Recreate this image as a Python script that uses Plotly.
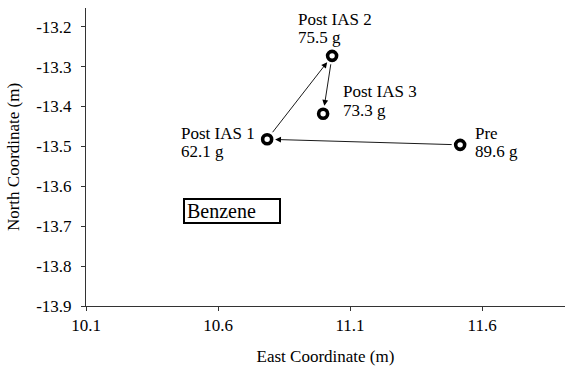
import plotly.graph_objects as go

# data
labels = ["Pre", "Post IAS 1", "Post IAS 2", "Post IAS 3"]
masses = ["89.6 g", "62.1 g", "75.5 g", "73.3 g"]
east = [11.517, 10.786, 11.032, 10.998]
north = [-13.496, -13.482, -13.273, -13.418]
x_ticks = [10.1, 10.6, 11.1, 11.6]
x_tick_text = ["10.1", "10.6", "11.1", "11.6"]
y_ticks = [-13.2, -13.3, -13.4, -13.5, -13.6, -13.7, -13.8, -13.9]
y_tick_text = ["-13.2", "-13.3", "-13.4", "-13.5", "-13.6", "-13.7", "-13.8", "-13.9"]
order = [0, 1, 2, 3]  # sequence of movement

FONT = "'Liberation Serif', 'Times New Roman', 'DejaVu Serif', serif"

fig = go.Figure()
fig.add_trace(go.Scatter(
    x=east, y=north, mode="markers",
    marker=dict(symbol="circle-open", size=9, color="black", line=dict(width=3.6, color="black")),
    showlegend=False, hoverinfo="skip",
))

annotations = []
for a, b in zip(order[:-1], order[1:]):
    annotations.append(dict(
        x=east[b], y=north[b], ax=east[a], ay=north[a],
        xref="x", yref="y", axref="x", ayref="y",
        text="", showarrow=True, arrowhead=2, arrowsize=1.3, arrowwidth=0.9,
        arrowcolor="black", standoff=8, startstandoff=7,
    ))

# label offsets (pixels): (xshift, line1 yshift, line2 yshift)
offsets = {
    0: (14, 11, -7),
    1: (-87, 6, -12),
    2: (-35, 36, 18),
    3: (19, 22, 3),
}
for i in range(len(labels)):
    xs, y1, y2 = offsets[i]
    for txt, ys in ((labels[i], y1), (masses[i], y2)):
        annotations.append(dict(
            x=east[i], y=north[i], xref="x", yref="y",
            text=txt, showarrow=False, xanchor="left", yanchor="middle",
            xshift=xs, yshift=ys, borderpad=0,
            font=dict(family=FONT, size=17, color="black"),
        ))

annotations.append(dict(
    x=0.3048, y=0.3188, xref="paper", yref="paper",
    text="Benzene", showarrow=False, xanchor="center", yanchor="middle",
    align="left", width=90, height=18, borderpad=2, borderwidth=2,
    bordercolor="black", bgcolor="white",
    font=dict(family=FONT, size=20, color="black"),
))

fig.update_layout(
    width=566, height=367,
    margin=dict(l=86, r=1, t=8, b=61),
    paper_bgcolor="white", plot_bgcolor="white",
    font=dict(family=FONT, size=17, color="black"),
    annotations=annotations,
    showlegend=False,
)
fig.update_xaxes(
    range=[10.1, 11.914], tickvals=x_ticks, ticktext=x_tick_text,
    showgrid=False, zeroline=False, showline=True, linecolor="#333", linewidth=1,
    ticks="outside", ticklen=4, tickcolor="#333",
    tickfont=dict(family=FONT, size=17, color="black"),
    title=dict(text="East Coordinate (m)", font=dict(family=FONT, size=17, color="black"), standoff=15),
)
fig.update_yaxes(
    range=[-13.9, -13.153], tickvals=y_ticks, ticktext=y_tick_text,
    showgrid=False, zeroline=False, showline=True, linecolor="#333", linewidth=1,
    ticks="outside", ticklen=4, tickcolor="#333", ticklabelstandoff=6,
    tickfont=dict(family=FONT, size=17, color="black"),
    title=dict(text="North Coordinate (m)", font=dict(family=FONT, size=17, color="black"), standoff=12),
)

fig.write_html("out.html")
